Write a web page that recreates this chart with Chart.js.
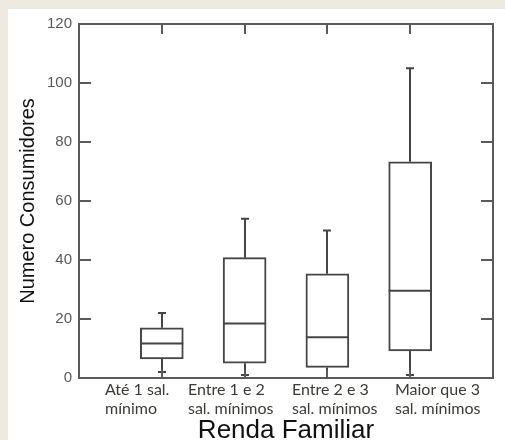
<!DOCTYPE html>
<html>
<head>
<meta charset="utf-8">
<script src="https://cdn.jsdelivr.net/npm/chart.js@4/dist/chart.umd.min.js"></script>
<style>
  html, body { margin: 0; padding: 0; background: #efeadf; }
  #wrap { position: relative; width: 505px; height: 440px; }
</style>
</head>
<body>
<div id="wrap"><canvas id="chart"></canvas></div>
<script>
// Box plot data: consumers by family income
const categories = [
    ['Até 1 sal.', 'mínimo'],
    ['Entre 1 e 2', 'sal. mínimos'],
    ['Entre 2 e 3', 'sal. mínimos'],
    ['Maior que 3', 'sal. mínimos']
];
const whiskerLow = [2, 1, 0, 1];
const q1 = [6.5, 5, 3.6, 9.2];
const median = [11.7, 18.5, 13.8, 29.6];
const q3 = [17, 40.8, 35.3, 73.3];
const whiskerHigh = [22, 54, 50, 105];

const LINE = '#454545';
const FRAME = '#5a5a5a';

// box i sits at x = i + 1 on a 0..5 linear axis
const positions = categories.map((_, i) => i + 1);
// where each (left aligned) label block starts, in axis units
const labelStarts = [0.314, 1.316, 2.572, 3.816];

const backgroundPlugin = {
    id: 'panel',
    beforeDraw(chart) {
        const ctx = chart.ctx;
        ctx.save();
        ctx.fillStyle = '#efeadf';
        ctx.fillRect(0, 0, chart.width, chart.height);
        ctx.fillStyle = '#ffffff';
        ctx.fillRect(8, 9, chart.width - 8, chart.height - 9);
        ctx.restore();
    }
};

const whiskerPlugin = {
    id: 'whiskers',
    beforeDatasetsDraw(chart) {
        const {ctx, scales: {x, y}} = chart;
        ctx.save();
        ctx.strokeStyle = LINE;
        ctx.lineWidth = 2;
        positions.forEach((p, i) => {
            const px = Math.round(x.getPixelForValue(p));
            ctx.beginPath();
            ctx.moveTo(px, y.getPixelForValue(whiskerLow[i]));
            ctx.lineTo(px, y.getPixelForValue(q1[i]));
            ctx.moveTo(px, y.getPixelForValue(q3[i]));
            ctx.lineTo(px, y.getPixelForValue(whiskerHigh[i]));
            // caps
            ctx.moveTo(px - 4, y.getPixelForValue(whiskerLow[i]));
            ctx.lineTo(px + 4, y.getPixelForValue(whiskerLow[i]));
            ctx.moveTo(px - 4, y.getPixelForValue(whiskerHigh[i]));
            ctx.lineTo(px + 4, y.getPixelForValue(whiskerHigh[i]));
            ctx.stroke();
        });
        ctx.restore();
    },
    afterDatasetsDraw(chart) {
        const {ctx, scales: {y}} = chart;
        const meta = chart.getDatasetMeta(0);
        ctx.save();
        ctx.strokeStyle = LINE;
        ctx.lineWidth = 2;
        meta.data.forEach((bar, i) => {
            const half = bar.width / 2;
            const py = y.getPixelForValue(median[i]);
            ctx.beginPath();
            ctx.moveTo(bar.x - half, py);
            ctx.lineTo(bar.x + half, py);
            ctx.stroke();
        });
        ctx.restore();
    }
};

// closed frame with inward tick marks on all four sides
const framePlugin = {
    id: 'frame',
    afterDatasetsDraw(chart) {
        const {ctx, chartArea: a, scales: {x, y}} = chart;
        ctx.save();
        ctx.strokeStyle = FRAME;
        ctx.lineWidth = 2;
        ctx.beginPath();
        y.ticks.forEach(t => {
            const py = Math.round(y.getPixelForValue(t.value));
            ctx.moveTo(a.left, py);
            ctx.lineTo(a.left + 12, py);
            ctx.moveTo(a.right, py);
            ctx.lineTo(a.right - 12, py);
        });
        positions.forEach(p => {
            const px = Math.round(x.getPixelForValue(p));
            ctx.moveTo(px, a.top);
            ctx.lineTo(px, a.top + 10);
            ctx.moveTo(px, a.bottom);
            ctx.lineTo(px, a.bottom - 8);
        });
        ctx.stroke();
        ctx.strokeRect(a.left, a.top, a.right - a.left, a.bottom - a.top);
        ctx.restore();
    }
};

new Chart(document.getElementById('chart'), {
    type: 'bar',
    data: {
        datasets: [{
            label: 'Consumidores',
            data: positions.map((p, i) => ({x: p, y: [q1[i], q3[i]]})),
            backgroundColor: '#ffffff',
            borderColor: LINE,
            borderWidth: 2,
            borderSkipped: false,
            barThickness: 43
        }]
    },
    options: {
        responsive: true,
        maintainAspectRatio: false,
        animation: false,
        layout: {
            padding: {top: 24, right: 12, left: 0, bottom: 0}
        },
        plugins: {
            legend: {display: false},
            tooltip: {enabled: false}
        },
        scales: {
            x: {
                type: 'linear',
                min: 0,
                max: 5,
                offset: false,
                grid: {display: false, drawTicks: false},
                border: {display: false},
                afterBuildTicks(scale) {
                    scale.ticks = labelStarts.map(v => ({value: v}));
                },
                afterFit(scale) {
                    scale.height = 62;
                },
                ticks: {
                    autoSkip: false,
                    maxRotation: 0,
                    minRotation: 0,
                    align: 'start',
                    padding: 2,
                    color: '#3d3a35',
                    font: {family: 'Lato', size: 16, lineHeight: 1.2},
                    callback: (value, index) => categories[index]
                },
                title: {
                    display: true,
                    text: 'Renda Familiar',
                    color: '#111111',
                    padding: 0,
                    font: {family: 'Liberation Sans', size: 26, lineHeight: 0.7}
                }
            },
            y: {
                min: 0,
                max: 120,
                grid: {display: false, drawTicks: false},
                border: {display: false},
                afterFit(scale) {
                    scale.width = 79;
                },
                ticks: {
                    stepSize: 20,
                    padding: 7,
                    color: '#585858',
                    font: {family: 'Liberation Sans', size: 15}
                },
                title: {
                    display: true,
                    text: 'Numero Consumidores',
                    color: '#111111',
                    padding: {top: 16, bottom: 0},
                    font: {family: 'Liberation Sans', size: 20, lineHeight: 1.2}
                }
            }
        }
    },
    plugins: [backgroundPlugin, whiskerPlugin, framePlugin]
});
</script>
</body>
</html>
